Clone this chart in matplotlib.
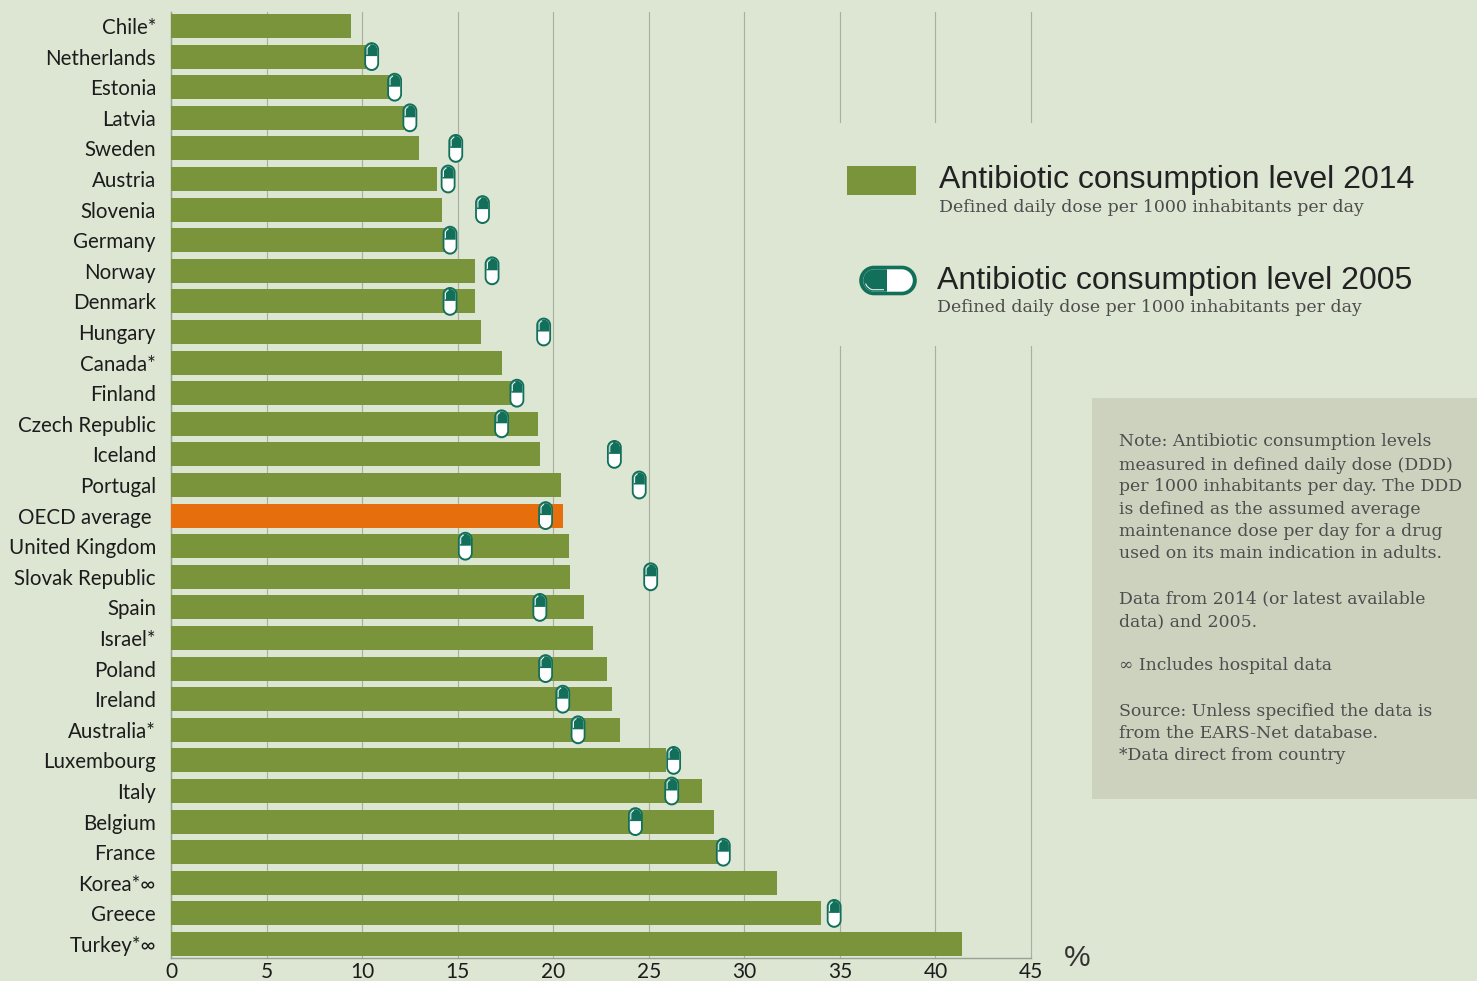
import matplotlib.pyplot as plt
from matplotlib.patches import PathPatch, Rectangle
from matplotlib.path import Path
from matplotlib.transforms import Affine2D, ScaledTranslation

W, H = 1477, 981
BG = "#dce6d3"
BAR = "#7a943c"
ORANGE = "#e66e0c"
PILL = "#12705a"
GRID = "#a8b0a0"

countries = [
    "Chile*", "Netherlands", "Estonia", "Latvia", "Sweden", "Austria", "Slovenia",
    "Germany", "Norway", "Denmark", "Hungary", "Canada*", "Finland", "Czech Republic",
    "Iceland", "Portugal", "OECD average", "United Kingdom", "Slovak Republic", "Spain",
    "Israel*", "Poland", "Ireland", "Australia*", "Luxembourg", "Italy", "Belgium",
    "France", "Korea*∞", "Greece", "Turkey*∞",
]
level_2014 = [
    9.4, 10.2, 11.5, 12.2, 13.0, 13.9, 14.2, 14.4, 15.9, 15.9, 16.2, 17.3, 17.9, 19.2,
    19.3, 20.4, 20.5, 20.8, 20.9, 21.6, 22.1, 22.8, 23.1, 23.5, 25.9, 27.8, 28.4, 28.6,
    31.7, 34.0, 41.4,
]
level_2005 = [
    None, 10.5, 11.7, 12.5, 14.9, 14.5, 16.3, 14.6, 16.8, 14.6, 19.5, None, 18.1, 17.3,
    23.2, 24.5, 19.6, 15.4, 25.1, 19.3, None, 19.6, 20.5, 21.3, 26.3, 26.2, 24.3, 28.9,
    None, 34.7, None,
]
x_ticks = [0, 5, 10, 15, 20, 25, 30, 35, 40, 45]

legend_2014 = "Antibiotic consumption level 2014"
legend_2005 = "Antibiotic consumption level 2005"
legend_sub = "Defined daily dose per 1000 inhabitants per day"
note_lines = [
    (442, "Note: Antibiotic consumption levels"),
    (465, "measured in defined daily dose (DDD)"),
    (487, "per 1000 inhabitants per day. The DDD"),
    (510, "is defined as the assumed average"),
    (532, "maintenance dose per day for a drug"),
    (554, "used on its main indication in adults."),
    (599, "Data from 2014 (or latest available"),
    (622, "data) and 2005."),
    (666, "∞ Includes hospital data"),
    (711, "Source: Unless specified the data is"),
    (734, "from the EARS-Net database."),
    (756, "*Data direct from country"),
]

LABEL_FONT = ["Lato", "DejaVu Sans"]
NOTE_FONT = ["DejaVu Serif"]


def capsule(hw, hh):
    k = 0.5523 * hw
    top = hh - hw
    verts = [(-hw, -top), (-hw, top),
             (-hw, top + k), (-k, hh), (0, hh),
             (k, hh), (hw, top + k), (hw, top),
             (hw, -top),
             (hw, -top - k), (k, -hh), (0, -hh),
             (-k, -hh), (-hw, -top - k), (-hw, -top),
             (-hw, -top)]
    codes = [Path.MOVETO, Path.LINETO] + [Path.CURVE4] * 6 + [Path.LINETO] + [Path.CURVE4] * 6 + [Path.CLOSEPOLY]
    return Path(verts, codes)


def pill_parts():
    # pill in pixels around (0, 0): outline, white body, dark half, small shine
    hw, hh = 5.6, 12.4
    k = 0.5523 * hw
    top = hh - hw
    dark = Path(
        [(-hw, 0.5), (-hw, top), (-hw, top + k), (-k, hh), (0, hh),
         (k, hh), (hw, top + k), (hw, top), (hw, 0.5), (-hw, 0.5)],
        [Path.MOVETO, Path.LINETO] + [Path.CURVE4] * 6 + [Path.LINETO, Path.CLOSEPOLY],
    )
    shine = Path([(-4.6, 2), (-4.6, 8), (-3.6, 10.6), (-1.5, 11.2)],
                 [Path.MOVETO, Path.LINETO, Path.CURVE3, Path.CURVE3])
    return capsule(7.4, 14.4), capsule(hw, hh), dark, shine


def draw_pill(add, transform):
    outer, inner, dark, shine = pill_parts()
    for path, color in [(outer, PILL), (inner, "white"), (dark, PILL)]:
        add(PathPatch(path, facecolor=color, edgecolor="none", transform=transform, zorder=5))
    add(PathPatch(shine, facecolor="none", edgecolor="white", linewidth=0.7, transform=transform, zorder=5))


fig = plt.figure(figsize=(W / 100, H / 100), dpi=100, facecolor=BG)
ax = fig.add_axes([171 / W, 1 - 958 / H, (1031 - 171) / W, (958 - 12) / H], facecolor=BG)

ypos = list(range(len(countries)))
colors = [ORANGE if c == "OECD average" else BAR for c in countries]
ax.barh(ypos, level_2014, height=24 / 30.6, color=colors, zorder=3)

ax.set_xlim(0, 45)
ax.set_ylim((958 - 26) / 30.6, (12 - 26) / 30.6)
ax.set_xticks(x_ticks)
ax.set_yticks(ypos)
ax.set_yticklabels(countries, family=LABEL_FONT, fontsize=14.8, color="#1c1c1c")
for lab, c in zip(ax.get_yticklabels(), countries):
    if c == "OECD average":
        lab.set_x(-5 / 860)
ax.set_xticklabels([str(t) for t in x_ticks], family=LABEL_FONT, fontsize=15, color="#1c1c1c")
ax.tick_params(axis="both", length=0)
ax.tick_params(axis="y", pad=10.8)
ax.tick_params(axis="x", pad=3)
ax.grid(axis="x", color=GRID, linewidth=0.85, zorder=1)
for line in ax.get_xgridlines():
    line.set_clip_on(False)
ax.set_axisbelow(True)
for side in ["top", "right"]:
    ax.spines[side].set_visible(False)
for side in ["left", "bottom"]:
    ax.spines[side].set_color("#9aa096")
    ax.spines[side].set_linewidth(1.0)

for i, v in enumerate(level_2005):
    if v is not None:
        draw_pill(ax.add_patch, Affine2D() + ScaledTranslation(v, i, ax.transData))

# panel over the gridlines, legend sits on it
fig.add_artist(Rectangle((780 / W, 1 - 346 / H), 330 / W, (346 - 123) / H, transform=fig.transFigure,
                         facecolor=BG, edgecolor="none", zorder=4))
fig.add_artist(Rectangle((847 / W, 1 - 195 / H), 69 / W, 29 / H, transform=fig.transFigure,
                         facecolor=BAR, edgecolor="none", zorder=5))

draw_pill(fig.add_artist, Affine2D().rotate_deg(90).scale(2.0) + Affine2D().translate(888, H - 280.5))


def px_text(x, y, s, **kw):
    fig.text(x / W, 1 - y / H, s, zorder=6, **kw)


px_text(939, 180, legend_2014, family="Liberation Sans", fontsize=23, color="#222222", va="center")
px_text(937, 281, legend_2005, family="Liberation Sans", fontsize=23, color="#222222", va="center")
px_text(939, 207, legend_sub, family=NOTE_FONT, fontsize=12.5, color="#4d4d4d", va="center")
px_text(937, 308, legend_sub, family=NOTE_FONT, fontsize=12.5, color="#4d4d4d", va="center")
px_text(1064, 958, "%", family="Liberation Sans", fontsize=21.5, color="#333333", va="center")

fig.add_artist(Rectangle((1092 / W, 1 - 799 / H), 385 / W, (799 - 398) / H, transform=fig.transFigure,
                         facecolor="#cdd2bf", edgecolor="none", zorder=4))
for y, line in note_lines:
    px_text(1119, y, line, family=NOTE_FONT, fontsize=12.4, color="#4d4d4d", va="center")

fig.savefig("out.png", dpi=100, facecolor=BG)
